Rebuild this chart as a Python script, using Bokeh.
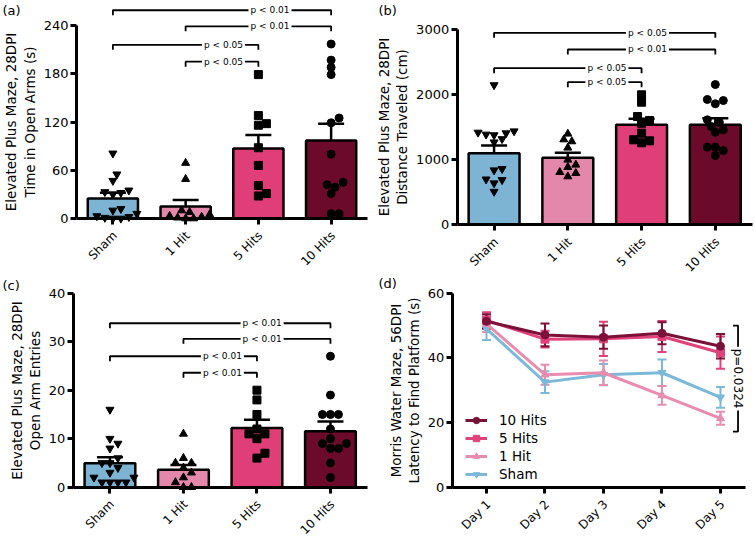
import math
from bokeh.plotting import figure
from bokeh.models import (Range1d, FixedTicker, Label, Whisker, TeeHead,
                          ColumnDataSource, Legend, LegendItem)
from bokeh.layouts import row, column
from bokeh.embed import file_html
from bokeh.resources import INLINE

FONT = "DejaVu Sans"

categories = ["Sham", "1 Hit", "5 Hits", "10 Hits"]
bar_colors = ["#7db4d4", "#e388ab", "#df3e78", "#6b0a2a"]
point_markers = ["inverted_triangle", "triangle", "square", "circle"]

# ---- (a) Elevated plus maze, time in open arms (s)
a_sham = [81, 55, 47, 35, 33, 32, 30, 12, 10, 6, 3, 2, 1, 0, 0]
a_1hit = [69, 49, 10, 8, 5, 3, 2, 1, 0, 0]
a_5hits = [179, 128, 118, 116, 88, 66, 41, 31, 28]
a_10hits = [217, 197, 188, 179, 125, 119, 80, 45, 42, 39, 31, 6, 6]
a_mean = [25, 15, 87, 97]
a_sem = [7, 8, 17, 21]
a_ticks = [0, 60, 120, 180, 240]
a_brackets = [(0, 3, 259, "p < 0.01"), (1, 3, 239, "p < 0.01"),
              (0, 2, 216, "p < 0.05"), (1, 2, 195, "p < 0.05")]

# ---- (b) distance traveled (cm)
b_sham = [2150, 1420, 1380, 1440, 1390, 1410, 1320, 1270, 860, 840, 700, 690, 640, 510]
b_1hit = [1400, 1282, 1312, 1185, 1000, 923, 809, 743, 794, 886]
b_5hits = [2000, 1886, 1666, 1605, 1563, 1409, 1308, 1262, 1292]
b_10hits = [2158, 1912, 1862, 1928, 1578, 1615, 1512, 1462, 1425, 1194, 1143, 1194, 1066]
b_mean = [1101, 1031, 1538, 1538]
b_sem = [120, 78, 95, 100]
b_ticks = [0, 1000, 2000, 3000]
b_brackets = [(0, 3, 2954, "p < 0.05"), (1, 3, 2697, "p < 0.01"),
              (0, 2, 2409, "p < 0.05"), (1, 2, 2194, "p < 0.05")]

# ---- (c) open arm entries
c_sham = [16, 10, 9, 8, 6, 5, 5, 4, 3, 2, 2, 1, 1, 1, 1]
c_1hit = [11, 6, 5, 5, 4, 3, 2, 1, 0, 0]
c_5hits = [20, 18, 15, 12, 11, 11, 10, 7, 6]
c_10hits = [27, 19, 15, 15, 15, 12, 10, 9, 9, 8, 8, 5, 2]
c_mean = [4.95, 3.6, 12.2, 11.55]
c_sem = [1.2, 1.0, 1.7, 2.0]
c_ticks = [0, 10, 20, 30, 40]
c_brackets = [(0, 3, 33.8, "p < 0.01"), (1, 3, 30.6, "p < 0.01"),
              (0, 2, 27.0, "p < 0.01"), (1, 2, 23.6, "p < 0.01")]

# ---- (d) Morris water maze latency (s)
days = ["Day 1", "Day 2", "Day 3", "Day 4", "Day 5"]
d_groups = ["10 Hits", "5 Hits", "1 Hit", "Sham"]
d_10hits_mean = [51.3, 47.1, 46.4, 47.6, 43.6]
d_10hits_sem = [2.2, 3.5, 3.6, 3.4, 3.8]
d_5hits_mean = [51.6, 45.8, 45.9, 46.6, 41.6]
d_5hits_sem = [2.5, 2.6, 5.3, 4.8, 5.0]
d_1hit_mean = [50.5, 34.8, 35.4, 28.4, 21.3]
d_1hit_sem = [2.5, 3.1, 3.8, 2.9, 2.0]
d_sham_mean = [49.0, 32.5, 34.8, 35.4, 27.8]
d_sham_sem = [3.5, 3.4, 3.3, 4.1, 3.2]
d_ticks = [0, 20, 40, 60]
d_p_text = "p=0.0324"
d_p_top, d_p_bottom = 50.0, 17.2

line_colors = ["#7b1038", "#e0437b", "#e88db0", "#7cb8d8"]
line_markers = ["circle", "square", "triangle", "inverted_triangle"]


def make_fig(W, H, X0, xa, sx, Y0, sy):
    """Frame covers the whole canvas; axes are pinned with fixed_location."""
    p = figure(width=W, height=H, min_border=0, title=None,
               x_range=Range1d(xa - X0 / sx, xa + (W - X0) / sx),
               y_range=Range1d(-(H - Y0) / sy, Y0 / sy),
               output_backend="svg", toolbar_location=None, tools="")
    p.outline_line_color = None
    p.xgrid.grid_line_color = None
    p.ygrid.grid_line_color = None
    p.background_fill_color = "white"
    p.border_fill_color = "white"
    for ax in list(p.xaxis) + list(p.yaxis):
        ax.axis_line_width = 3
        ax.axis_line_color = "black"
        ax.major_tick_line_width = 3
        ax.major_tick_line_color = "black"
        ax.major_tick_out = 6
        ax.major_tick_in = 0
        ax.minor_tick_line_color = None
        ax.major_label_text_font = FONT
        ax.major_label_text_font_size = "13px"
        ax.major_label_text_color = "black"
        ax.axis_label_text_font = FONT
        ax.axis_label_text_font_size = "13.5px"
        ax.axis_label_text_font_style = "normal"
        ax.axis_label_text_color = "black"
        ax.axis_label_text_line_height = 1.15
    p.yaxis.major_label_standoff = 2
    p.yaxis.axis_label_standoff = 3
    p.xaxis.fixed_location = 0
    p.yaxis.fixed_location = xa
    return p


def px_to_data(cx, cy, X0, xa, sx, Y0, sy):
    return xa + (cx - X0) / sx, (Y0 - cy) / sy


def tag(p, text, geo, cx, cy):
    x, y = px_to_data(cx, cy, *geo)
    p.add_layout(Label(x=x, y=y, text=text, text_align="left", text_baseline="top",
                       text_font=FONT, text_font_size="13px", text_color="black"))


def x_labels(p, xs, names):
    p.xaxis.major_label_overrides = {x: "" for x in xs}
    for x, name in zip(xs, names):
        p.add_layout(Label(x=x, y=0, x_offset=2, y_offset=-15, text=name,
                           angle=math.pi / 4, text_align="right", text_baseline="middle",
                           text_font=FONT, text_font_size="12px", text_color="black"))


def swarm(vals, px_per_unit, diam):
    order = sorted(range(len(vals)), key=lambda k: vals[k])
    placed = []
    offs = [0.0] * len(vals)
    step = diam / 2.0
    cands = [0.0]
    for k in range(1, 16):
        cands += [k * step, -k * step]
    for k in order:
        yk = vals[k] * px_per_unit
        chosen = cands[-1]
        for c in cands:
            if all((c - a) ** 2 + (yk - b) ** 2 >= (diam * 0.85) ** 2 for a, b in placed):
                chosen = c
                break
        placed.append((chosen, yk))
        offs[k] = chosen
    return offs


def bar_panel(name, groups, mean, sem, ticks, ylabel, brackets, text_pos, W, H, X0, sx, Y0, sy):
    geo = (X0, 0.0, sx, Y0, sy)
    p = make_fig(W, H, *geo)
    xs = [i + 0.5 for i in range(len(categories))]
    p.vbar(x=xs, top=mean, width=0.69, fill_color=bar_colors, line_color="black",
           line_width=2.5)
    for i, vals in enumerate(groups):
        offs = swarm(vals, sy, 8.0)
        p.scatter(x=[xs[i] + o / sx for o in offs], y=vals, marker=point_markers[i],
                  size=8, color="black")
    src = ColumnDataSource(dict(x=xs, lo=[m - s for m, s in zip(mean, sem)],
                                hi=[m + s for m, s in zip(mean, sem)]))
    p.add_layout(Whisker(source=src, base="x", lower="lo", upper="hi",
                         line_width=2.5, line_color="black",
                         upper_head=TeeHead(size=26, line_width=2.5, line_color="black"),
                         lower_head=TeeHead(size=26, line_width=2.5, line_color="black")))
    tick = 5.0 / sy
    for (i, j, lvl, txt), tx in zip(brackets, text_pos):
        p.line([xs[i], xs[i], xs[j], xs[j]], [lvl - tick, lvl, lvl, lvl - tick],
               line_color="black", line_width=1.8)
        p.add_layout(Label(x=tx, y=lvl, text=txt, text_align="center",
                           text_baseline="middle", text_font=FONT,
                           text_font_size="9px", text_color="black",
                           background_fill_color="white", padding=2))
    p.yaxis.ticker = FixedTicker(ticks=ticks)
    p.yaxis.bounds = (0, ticks[-1])
    p.yaxis.axis_label = ylabel
    p.xaxis.ticker = FixedTicker(ticks=xs)
    p.xaxis.bounds = (0, len(categories))
    x_labels(p, xs, categories)
    tag(p, name, geo, 2, 2)
    return p


TOP_H, BOT_H = 275, 262
pa = bar_panel("(a)", [a_sham, a_1hit, a_5hits, a_10hits], a_mean, a_sem, a_ticks,
               "Elevated Plus Maze, 28DPI\nTime in Open Arms (s)", a_brackets,
               [2.66, 2.66, 2.02, 2.02], 376, TOP_H, 76, 72.75, 218, 0.804)
pb = bar_panel("(b)", [b_sham, b_1hit, b_5hits, b_10hits], b_mean, b_sem, b_ticks,
               "Elevated Plus Maze, 28DPI\nDistance Traveled (cm)", b_brackets,
               [2.58, 2.58, 2.03, 2.03], 379, TOP_H, 80.7, 73.75, 224.3, 0.065)
pc = bar_panel("(c)", [c_sham, c_1hit, c_5hits, c_10hits], c_mean, c_sem, c_ticks,
               "Elevated Plus Maze, 28DPI\nOpen Arm Entries", c_brackets,
               [2.57, 2.57, 2.03, 2.03], 376, BOT_H, 72.7, 73.5, 486.7 - TOP_H, 4.85)

# ---- (d)
geo_d = (75.7, 0.414, 58.5, 486.7 - TOP_H, 3.233)
pd_ = make_fig(379, BOT_H, *geo_d)
day_x = list(range(1, len(days) + 1))
d_means = [d_10hits_mean, d_5hits_mean, d_1hit_mean, d_sham_mean]
d_sems = [d_10hits_sem, d_5hits_sem, d_1hit_sem, d_sham_sem]
items = {}
for g in [3, 2, 1, 0]:
    col = line_colors[g]
    rl = pd_.line(day_x, d_means[g], line_color=col, line_width=3)
    rs = pd_.scatter(day_x, d_means[g], marker=line_markers[g], size=8, color=col)
    src = ColumnDataSource(dict(x=day_x,
                                lo=[m - s for m, s in zip(d_means[g], d_sems[g])],
                                hi=[m + s for m, s in zip(d_means[g], d_sems[g])]))
    pd_.add_layout(Whisker(source=src, base="x", lower="lo", upper="hi",
                           line_width=2, line_color=col,
                           upper_head=TeeHead(size=9, line_width=2, line_color=col),
                           lower_head=TeeHead(size=9, line_width=2, line_color=col)))
    items[g] = LegendItem(label=d_groups[g], renderers=[rl, rs])
legend = Legend(items=[items[g] for g in range(4)], location=(89, 55),
                label_text_font=FONT, label_text_font_size="13.5px",
                label_text_color="black", glyph_width=22, glyph_height=16,
                label_height=16, spacing=2, padding=0, margin=0,
                label_standoff=12, background_fill_alpha=0,
                border_line_color=None)
pd_.add_layout(legend)
bx = 5.30
btick = 5.0 / geo_d[2]
pd_.line([bx - btick, bx, bx, bx - btick], [d_p_top, d_p_top, d_p_bottom, d_p_bottom],
         line_color="black", line_width=1.8)
pd_.add_layout(Label(x=bx, y=(d_p_top + d_p_bottom) / 2, text=d_p_text, angle=-math.pi / 2,
                     text_align="center", text_baseline="middle", text_font=FONT,
                     text_font_size="12px", text_color="black",
                     background_fill_color="white", padding=2))
pd_.yaxis.ticker = FixedTicker(ticks=d_ticks)
pd_.yaxis.bounds = (0, d_ticks[-1])
pd_.yaxis.axis_label = "Morris Water Maze, 56DPI\nLatency to Find Platform (s)"
pd_.xaxis.ticker = FixedTicker(ticks=day_x)
pd_.xaxis.bounds = (0.414, 5.43)
x_labels(pd_, day_x, days)
tag(pd_, "(d)", geo_d, 2, 0)

layout = column(row(pa, pb), row(pc, pd_))
open("out.html", "w").write(file_html(layout, INLINE))
